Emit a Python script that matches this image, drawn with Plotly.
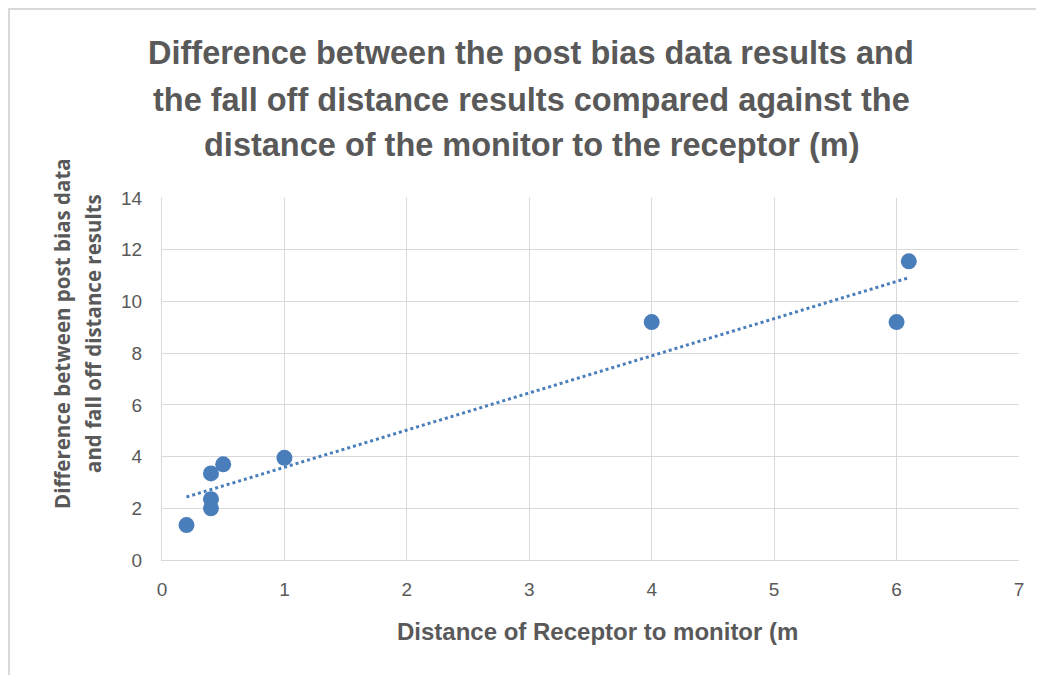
import numpy as np
import plotly.graph_objects as go

distance_m = [0.2, 0.4, 0.4, 0.4, 0.5, 1.0, 4.0, 6.0, 6.1]
difference = [1.35, 2.0, 2.35, 3.35, 3.7, 3.95, 9.2, 9.2, 11.55]
x_ticks = [0, 1, 2, 3, 4, 5, 6, 7]
y_ticks = [0, 2, 4, 6, 8, 10, 12, 14]

title_lines = ["Difference between the post bias data results and",
               "the fall off distance results compared against the",
               "distance of the monitor to the receptor (m)"]
x_title = "Distance of Receptor to monitor (m"
y_title_lines = ["Difference between post bias data", "and fall off distance results"]

W, H = 1044, 675
OFF = 8  # page body margin
# plot area in screenshot pixels
L, R, T, B = 162, 1019, 198, 560
pw, ph = R - L, B - T

def px(x):
    return (x - L) / pw

def py(y):
    return (B - y) / ph

blue = "#4a7ebb"
grey_text = "#595959"
grid = "#d9d9d9"

slope, intercept = np.polyfit(distance_m, difference, 1)
tx = [min(distance_m), max(distance_m)]
ty = [slope * v + intercept for v in tx]

fig = go.Figure()
fig.add_trace(go.Scatter(x=distance_m, y=difference, mode="markers",
                         marker=dict(color=blue, size=16, line=dict(width=0)),
                         showlegend=False))
fig.add_trace(go.Scatter(x=tx, y=ty, mode="lines",
                         line=dict(color=blue, width=3, dash="dot"),
                         showlegend=False))

tick_font = dict(family="Liberation Sans, Arial, sans-serif", size=19, color=grey_text)

fig.update_xaxes(range=[0, 7], tickvals=x_ticks, showgrid=True, gridcolor=grid, gridwidth=1,
                 showline=True, linecolor=grid, linewidth=1, zeroline=False,
                 tickfont=tick_font, ticks="", ticklabelstandoff=12)
fig.update_yaxes(range=[0, 14], tickvals=y_ticks, showgrid=True, gridcolor=grid, gridwidth=1,
                 showline=True, linecolor=grid, linewidth=1, zeroline=False,
                 tickfont=tick_font, ticks="", ticklabelstandoff=15)

annotations = []
for i, line in enumerate(title_lines):
    annotations.append(dict(text="<b>" + line + "</b>", x=px(531), y=py([53, 100, 145][i]),
                            xref="paper", yref="paper", showarrow=False,
                            xanchor="center", yanchor="middle",
                            font=dict(family="Liberation Sans, Arial, sans-serif",
                                      size=32.5, color=grey_text)))
annotations.append(dict(text="<b>" + x_title + "</b>", x=px(597), y=py(631),
                        xref="paper", yref="paper", showarrow=False,
                        xanchor="center", yanchor="middle",
                        font=dict(family="Liberation Sans, Arial, sans-serif",
                                  size=24, color=grey_text)))
for i, line in enumerate(y_title_lines):
    annotations.append(dict(text="<b>" + line + "</b>", x=px([62, 93][i]), y=py(334),
                            xref="paper", yref="paper", showarrow=False, textangle=-90,
                            xanchor="center", yanchor="middle",
                            font=dict(family="Open Sans, sans-serif", size=20.5, color=grey_text)))

fig.update_layout(
    width=W, height=H,
    margin=dict(l=L - OFF, r=W - R + OFF, t=T - OFF, b=H - B + OFF),
    paper_bgcolor="white", plot_bgcolor="white",
    annotations=annotations,
    shapes=[dict(type="rect", xref="paper", yref="paper",
                 x0=px(OFF + 1), x1=px(1080), y0=py(700), y1=py(OFF + 1),
                 line=dict(color="#d9d9d9", width=2), layer="below")],
)

fig.write_html("out.html")
